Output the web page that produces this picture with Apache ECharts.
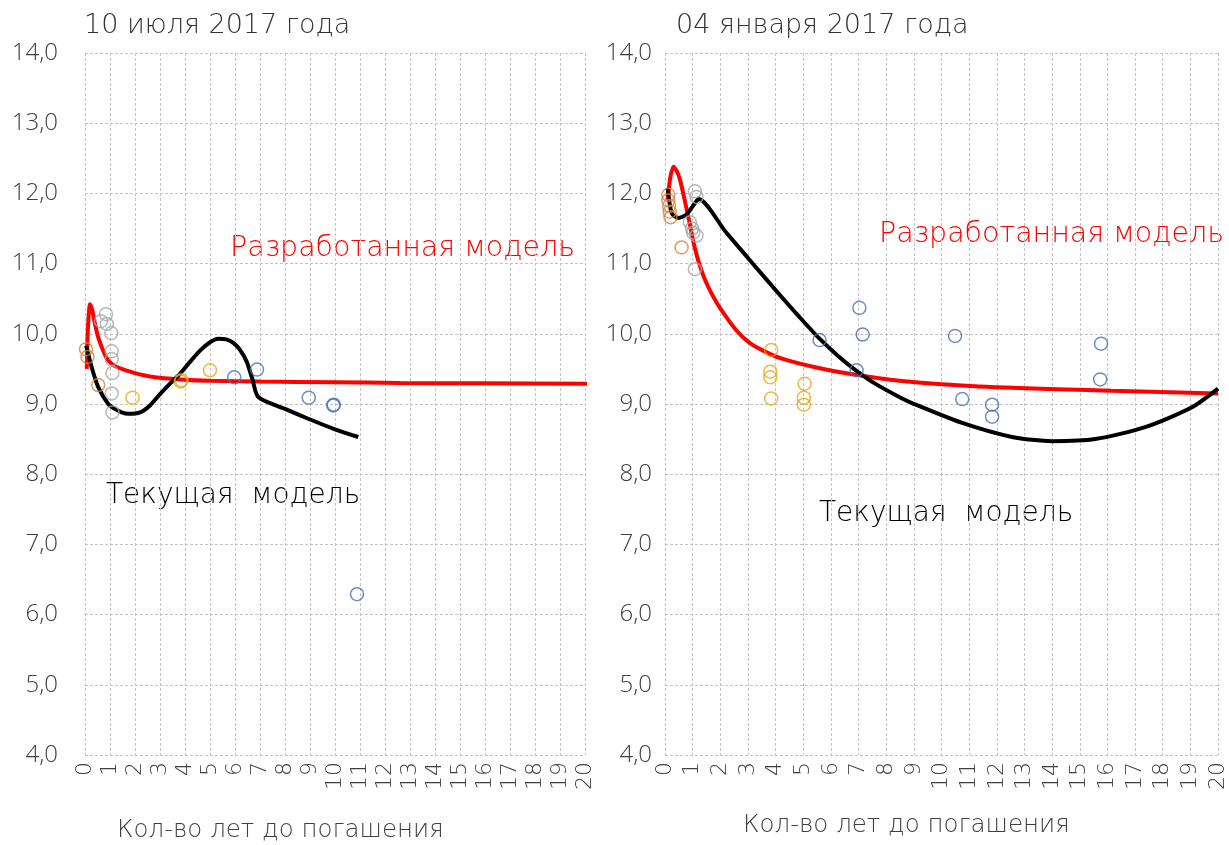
<!DOCTYPE html>
<html>
<head>
<meta charset="utf-8">
<script src="https://cdn.jsdelivr.net/npm/echarts@6/dist/echarts.min.js"></script>
<style>
  html, body { margin: 0; padding: 0; background: #fff; }
  #main { width: 1229px; height: 845px; }
</style>
</head>
<body>
<div id="main"></div>
<script>
// ---- 10 июля 2017 года ----
var julyModel = [[0.07, 9.5], [0.12, 10.1], [0.2, 10.42], [0.28, 10.35], [0.4, 10.14], [0.52, 9.96], [0.67, 9.81], [0.8, 9.7], [0.93, 9.62], [1.2, 9.54], [1.47, 9.5], [2.0, 9.44], [2.8, 9.38], [3.8, 9.35], [5.0, 9.33], [7.0, 9.32], [10.0, 9.31], [12.6, 9.3], [16.0, 9.295], [20.2, 9.29]];
var julyCurrent = [[0.05, 9.83], [0.27, 9.52], [0.53, 9.24], [0.93, 9.0], [1.2, 8.93], [1.47, 8.88], [1.73, 8.86], [2.2, 8.88], [2.6, 8.98], [3.0, 9.14], [3.4, 9.29], [3.8, 9.43], [4.2, 9.6], [4.6, 9.76], [5.0, 9.88], [5.33, 9.93], [5.65, 9.92], [5.93, 9.87], [6.2, 9.77], [6.47, 9.6], [6.7, 9.35], [6.93, 9.1], [8.0, 8.93], [8.93, 8.79], [10.0, 8.64], [10.93, 8.53]];
var julyOrange = [[0.04, 9.78], [0.1, 9.67], [0.53, 9.27]];
var julyGray = [[0.84, 10.28], [0.64, 10.18], [0.87, 10.14], [1.05, 10.01], [1.07, 9.75], [1.07, 9.64], [1.1, 9.44], [1.07, 9.15], [1.1, 8.88]];
var julyGold = [[1.9, 9.09], [3.83, 9.32], [3.86, 9.34], [5.0, 9.48]];
var julyBlue = [[5.97, 9.38], [6.88, 9.49], [8.95, 9.09], [9.93, 8.98], [9.95, 8.99], [10.88, 6.29]];

// ---- 04 января 2017 года ----
var janModel = [[0.1, 11.9], [0.18, 12.2], [0.3, 12.38], [0.42, 12.32], [0.54, 12.2], [0.72, 11.89], [0.9, 11.56], [1.08, 11.22], [1.32, 10.9], [1.56, 10.67], [1.86, 10.45], [2.16, 10.27], [2.6, 10.04], [3.06, 9.87], [3.6, 9.75], [4.2, 9.65], [5.47, 9.52], [6.67, 9.43], [8.47, 9.33], [11.35, 9.25], [16.15, 9.19], [20.0, 9.15]];
var janCurrent = [[0.1, 12.08], [0.24, 11.72], [0.48, 11.65], [0.78, 11.7], [1.08, 11.86], [1.22, 11.92], [2.2, 11.45], [3.24, 10.97], [4.14, 10.56], [4.86, 10.24], [5.59, 9.93], [6.3, 9.67], [6.9, 9.48], [7.6, 9.29], [8.47, 9.1], [8.95, 9.01], [10.75, 8.73], [12.55, 8.53], [14.0, 8.47], [15.56, 8.5], [17.36, 8.67], [19.04, 8.95], [20.0, 9.22]];
var janOrange = [[0.12, 11.98], [0.12, 11.9], [0.15, 11.82], [0.17, 11.74], [0.2, 11.66], [0.6, 11.23]];
var janGray = [[1.08, 12.03], [1.14, 11.95], [0.9, 11.59], [0.98, 11.5], [1.02, 11.44], [1.14, 11.4], [1.08, 10.92]];
var janGold = [[3.84, 9.77], [3.81, 9.46], [3.81, 9.38], [3.84, 9.08], [5.05, 9.29], [5.02, 9.09], [5.02, 8.99]];
var janBlue = [[5.59, 9.91], [7.15, 9.99], [6.93, 9.48], [7.03, 10.37], [10.49, 9.97], [10.75, 9.07], [11.83, 8.99], [11.83, 8.82], [15.77, 9.86], [15.74, 9.35]];

var titles = ['10 июля 2017 года', '04 января 2017 года'];
var axisTitle = 'Кол-во лет до погашения';
var modelName = 'Разработанная модель';
var currentName = 'Текущая  модель';

var FONT = '"DejaVu Sans", "Noto Sans", sans-serif';
var NUMFONT = '"Open Sans", "Noto Sans", sans-serif';
var gridColor = '#c4c4c4';

function makeX(i) {
  return {
    type: 'value', gridIndex: i, min: 0, max: 20, interval: 1,
    axisLine: { show: false }, axisTick: { show: false },
    splitLine: { show: true, lineStyle: { color: gridColor, type: [3, 2], width: 1 } },
    axisLabel: { rotate: 90, fontSize: 22, color: '#404040', fontFamily: FONT, fontWeight: 200, margin: 7 }
  };
}
function makeY(i, margin) {
  return {
    type: 'value', gridIndex: i, min: 4, max: 14, interval: 1,
    axisLine: { show: false }, axisTick: { show: false },
    splitLine: { show: true, lineStyle: { color: gridColor, type: [3, 2], width: 1 } },
    axisLabel: {
      fontSize: 24, color: '#404040', fontFamily: NUMFONT, fontWeight: 300, margin: margin,
      formatter: function (v) { return v.toFixed(1).replace('.', ','); }
    }
  };
}
function lineSeries(i, data, color) {
  return { type: 'line', xAxisIndex: i, yAxisIndex: i, data: data, showSymbol: false, smooth: 0.25,
    lineStyle: { color: color, width: 4 }, z: 3 };
}
function dots(i, data, color) {
  return { type: 'scatter', xAxisIndex: i, yAxisIndex: i, data: data, symbol: 'circle', symbolSize: 13,
    itemStyle: { color: 'rgba(255,255,255,0)', borderColor: color, borderWidth: 1.5 }, z: 4 };
}
function txt(x, y, s, size, color) {
  return { type: 'text', left: x, top: y, style: { text: s, fontSize: size, fill: color, fontFamily: FONT, fontWeight: 200 } };
}

var chart = echarts.init(document.getElementById('main'));
chart.setOption({
  animation: false,
  backgroundColor: '#fff',
  grid: [
    { left: 85, right: 644, top: 53, bottom: 90 },
    { left: 665, right: 9, top: 53, bottom: 90 }
  ],
  xAxis: [makeX(0), makeX(1)],
  yAxis: [makeY(0, 27), makeY(1, 13)],
  series: [
    lineSeries(0, julyModel, '#ff0000'),
    lineSeries(0, julyCurrent, '#000000'),
    dots(0, julyOrange, '#d9823f'),
    dots(0, julyGray, '#a5a5a5'),
    dots(0, julyGold, '#e6a817'),
    dots(0, julyBlue, '#4a6fb5'),
    lineSeries(1, janModel, '#ff0000'),
    lineSeries(1, janCurrent, '#000000'),
    dots(1, janOrange, '#d9823f'),
    dots(1, janGray, '#a5a5a5'),
    dots(1, janGold, '#e6a817'),
    dots(1, janBlue, '#4a6fb5')
  ],
  graphic: [
    txt(84, 12, titles[0], 27, '#333333'),
    txt(676, 12, titles[1], 27, '#333333'),
    txt(230, 234, modelName, 28.5, '#ff0000'),
    txt(106, 482, currentName, 28, '#000000'),
    txt(879, 220, modelName, 28.5, '#ff0000'),
    txt(819, 500, currentName, 28, '#000000'),
    txt(117, 818, axisTitle, 24.5, '#404040'),
    txt(743, 813, axisTitle, 24.5, '#404040')
  ]
});
</script>
</body>
</html>
